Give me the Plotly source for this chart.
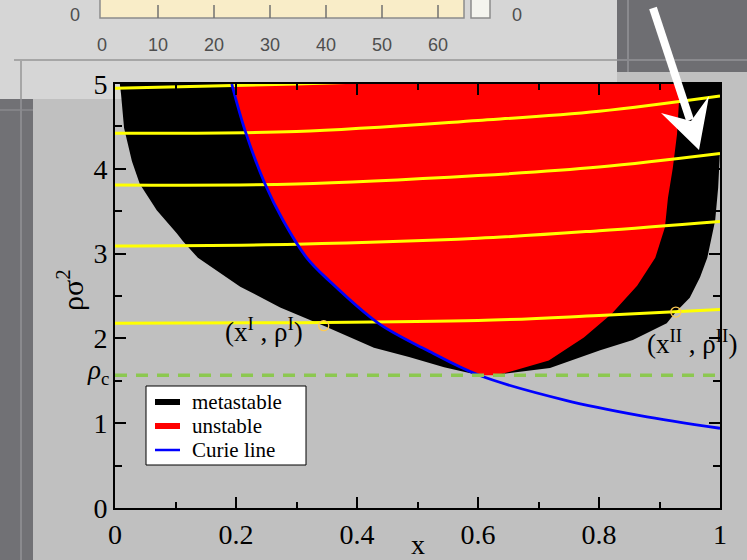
import plotly.graph_objects as go

# ---------------------------------------------------------------- data
# metastable (binodal) region outline, traced from the top-left corner
meta_x = [0.008, 0.010, 0.015, 0.028, 0.041, 0.069, 0.102, 0.112, 0.137, 0.207,
          0.273, 0.345, 0.428, 0.486, 0.544, 0.579, 0.602, 0.636, 0.719, 0.802,
          0.856, 0.912, 0.927, 0.950, 0.967, 0.979, 0.992, 0.997, 1.000, 1.000]
meta_y = [5.00, 4.88, 4.48, 4.09, 3.82, 3.51, 3.24, 3.15, 2.95, 2.61,
          2.365, 2.15, 1.89, 1.78, 1.66, 1.60, 1.565, 1.576, 1.65, 1.86,
          1.98, 2.18, 2.31, 2.48, 2.72, 2.95, 3.39, 3.78, 4.21, 5.00]

# unstable (spinodal) region outline
unst_x = [0.193, 0.215, 0.248, 0.278, 0.317, 0.354, 0.435, 0.516, 0.602, 0.630,
          0.660, 0.717, 0.775, 0.821, 0.863, 0.893, 0.909, 0.914, 0.922, 0.929, 0.934]
unst_y = [5.00, 4.45, 3.82, 3.39, 2.95, 2.68, 2.18, 1.86, 1.565, 1.565,
          1.62, 1.74, 2.01, 2.29, 2.62, 2.95, 3.31, 3.66, 4.01, 4.41, 5.00]

# Curie line
curie_x = [0.193, 0.215, 0.248, 0.278, 0.317, 0.354, 0.435, 0.516, 0.602, 0.745, 0.868, 1.0]
curie_y = [5.00, 4.45, 3.82, 3.39, 2.95, 2.68, 2.18, 1.86, 1.565, 1.27, 1.09, 0.94]

# tie lines sampled on a common composition grid
tie_x = [0.0, 0.3, 0.6, 0.8, 1.0]
tie1_y = [4.95, 5.00, 5.07, 5.12, 5.17]
tie2_y = [4.42, 4.44, 4.57, 4.68, 4.86]
tie3_y = [3.81, 3.82, 3.92, 4.02, 4.18]
tie4_y = [3.09, 3.11, 3.18, 3.27, 3.38]
tie5_y = [2.18, 2.185, 2.21, 2.27, 2.34]

# coexisting states (x^I, rho^I) and (x^II, rho^II)
coex_x = [0.345, 0.927]
coex_y = [2.15, 2.31]

rho_c = 1.565

x_ticks = [0, 0.2, 0.4, 0.6, 0.8, 1]
x_ticktext = ["0", "0.2", "0.4", "0.6", "0.8", "1"]
y_ticks = [0, 1, 2, 3, 4, 5]
y_ticktext = ["0", "1", "2", "3", "4", "5"]

cbar_labels = ["0", "10", "20", "30", "40", "50", "60"]
legend_labels = ["metastable", "unstable", "Curie line"]

# ---------------------------------------------------------------- layout helpers
W, H = 747, 560
ML, MR, MT, MB = 115, 27, 84, 52
PW, PH = W - ML - MR, H - MT - MB


def px(x):
    return (x - ML) / PW


def py(y):
    return (H - MB - y) / PH


SERIF = "Liberation Serif, Times New Roman, serif"
SANS = "Liberation Sans, Arial, sans-serif"

fig = go.Figure()

fig.add_trace(go.Scatter(x=meta_x, y=meta_y, fill="toself", fillcolor="black",
                         mode="lines", line=dict(width=0, color="black"),
                         hoverinfo="skip"))
fig.add_trace(go.Scatter(x=unst_x, y=unst_y, fill="toself", fillcolor="#ff0000",
                         mode="lines", line=dict(width=0, color="#ff0000"),
                         hoverinfo="skip"))
for ty in (tie1_y, tie2_y, tie3_y, tie4_y, tie5_y):
    fig.add_trace(go.Scatter(x=tie_x, y=ty, mode="lines",
                             line=dict(color="#ffff00", width=3, shape="spline")))
fig.add_trace(go.Scatter(x=curie_x, y=curie_y, mode="lines",
                         line=dict(color="#0000ff", width=2.8, shape="spline")))
fig.add_trace(go.Scatter(x=[0, 1], y=[rho_c, rho_c], mode="lines",
                         line=dict(color="#8cc850", width=3.5, dash="12px,9px")))
fig.add_trace(go.Scatter(x=coex_x, y=coex_y, mode="markers",
                         marker=dict(symbol="circle-open", size=10,
                                     line=dict(color="#222222", width=1.3))))

axis_common = dict(showline=True, linecolor="black", linewidth=2, mirror="ticks",
                   ticks="inside", tickcolor="black", tickwidth=1.5, ticklen=11,
                   showgrid=False, zeroline=False,
                   tickfont=dict(family=SERIF, size=28, color="black"))
fig.update_xaxes(range=[0, 1], tickvals=x_ticks, ticktext=x_ticktext,
                 minor=dict(dtick=0.1, ticks="inside", ticklen=6, tickwidth=1.5,
                            tickcolor="black"),
                 **axis_common)
fig.update_yaxes(range=[0, 5], tickvals=y_ticks, ticktext=y_ticktext,
                 minor=dict(dtick=0.5, ticks="inside", ticklen=7, tickwidth=1.5,
                            tickcolor="black"),
                 **axis_common)

shapes = []
annotations = []


def rect(x0, y0, x1, y1, fill, line=None, lw=0, layer="below"):
    shapes.append(dict(type="rect", xref="paper", yref="paper",
                       x0=px(x0), x1=px(x1), y0=py(y1), y1=py(y0),
                       fillcolor=fill, layer=layer,
                       line=dict(width=lw, color=line or fill)))


def seg(x0, y0, x1, y1, color, width, layer="below"):
    shapes.append(dict(type="line", xref="paper", yref="paper",
                       x0=px(x0), x1=px(x1), y0=py(y0), y1=py(y1),
                       layer=layer, line=dict(color=color, width=width)))


def text(s, x, y, size, family=SERIF, color="black", xa="center", ya="middle", angle=0):
    annotations.append(dict(text=s, x=px(x), y=py(y), xref="paper", yref="paper",
                            xanchor=xa, yanchor=ya, showarrow=False, textangle=angle,
                            borderpad=0,
                            font=dict(family=family, size=size, color=color)))


# window backdrop
rect(-5, -5, 617, 99, "#d6d6d6")
rect(617, -5, 752, 72, "#6e6e72")
rect(-5, 99, 33, 565, "#717175")
seg(14, 60, 617, 60, "#a6a6a6", 2)
seg(617, 60, 752, 60, "#8a8a8e", 2)
seg(628, -5, 628, 72, "#8a8a8e", 2)
seg(21, 60, 21, 99, "#a6a6a6", 2)
seg(21, 99, 21, 565, "#8a8a8e", 2)
seg(-5, 110, 33, 110, "#8a8a8e", 1.5)

# colour scale strip
rect(100, -4, 464, 18, "#f9edc8", "#8c8c8c", 1.5)
rect(471, -4, 490, 18, "#f4f4ee", "#8c8c8c", 1.5)
for i, lab in enumerate(cbar_labels):
    xc = 102 + 56 * i
    if i > 0:
        seg(xc, 5, xc, 18, "#707070", 1.5)
    text(lab, xc, 45, 18, SANS, "#4e4e4e")
text("0", 75, 15, 18, SANS, "#4e4e4e")
text("0", 517, 15, 18, SANS, "#4e4e4e")

# white pointer arrow
seg(653, 8, 690, 120, "white", 8, layer="above")
shapes.append(dict(type="path", xref="paper", yref="paper", layer="above",
                   path=(f"M {px(699)},{py(150)} L {px(661)},{py(113)} "
                         f"L {px(691)},{py(121)} L {px(709)},{py(96)} Z"),
                   fillcolor="white", line=dict(width=0)))

# legend box
rect(146, 386, 306, 465, "white", "black", 1, layer="above")
legend_colors = ["black", "#ff0000", "#0000ff"]
legend_widths = [6, 6, 2.5]
for i, (lab, col, lw) in enumerate(zip(legend_labels, legend_colors, legend_widths)):
    yc = 402 + 24 * i
    seg(155, yc, 180, yc, col, lw, layer="above")
    text(lab, 191, yc, 21, xa="left")

# axis titles and labels
text("x", 418, 544, 28)
text("ρσ<sup>2</sup>", 70, 290, 30, angle=-90)
text("<i>ρ</i><sub>c</sub>", 110, 372, 27, xa="right")
text("(x<sup>I</sup> , ρ<sup>I</sup>)", 264, 330, 27)
text("(x<sup>II</sup> , ρ<sup>II</sup>)", 692, 342, 27)

fig.update_layout(width=W, height=H,
                  margin=dict(l=ML, r=MR, t=MT, b=MB, autoexpand=False),
                  paper_bgcolor="#c0c0c0", plot_bgcolor="rgba(0,0,0,0)",
                  showlegend=False, shapes=shapes, annotations=annotations)

fig.write_html("out.html")
